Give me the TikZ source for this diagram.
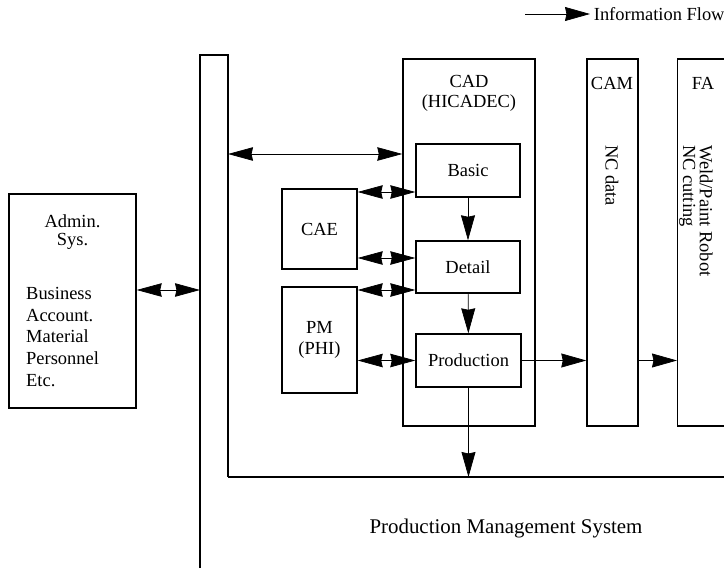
\documentclass[tikz,border=0pt]{standalone}
\usepackage{fontspec}
\setmainfont{Liberation Serif}
\usetikzlibrary{positioning, arrows.meta}

\tikzset{
    box/.style={draw, thick, inner sep=1pt},
    oneway/.style={-{Stealth[length=5mm, width=2.8mm, inset=0.3mm]}},
    twoway/.style={{Stealth[length=5mm, width=2.7mm, inset=0.3mm]}-{Stealth[length=5mm, width=2.7mm, inset=0.3mm]}}
}

\begin{document}
\begin{tikzpicture}[
    every node/.style={font=\fontsize{10.5}{12}\selectfont}
]
\useasboundingbox (0,0) rectangle (14.48,11.36);
\clip (0,0) rectangle (14.48,11.36);

% === LEGEND ===
\coordinate (legtail) at (10.5,11.08);
\node[anchor=west, inner sep=2pt] (legend) at (11.8,11.08) {Information Flow};
\draw[oneway] (legtail) -- (legend.west);

% === ADMIN SYSTEM ===
\node[box, minimum width=2.54cm, minimum height=4.28cm] (admin) at (1.45,5.34) {};
\node[align=center, font=\fontsize{10.5}{10.3}\selectfont] (admintitle) at (1.45,6.72) {Admin.\\Sys.};
\node[align=left, anchor=west, font=\fontsize{10.5}{12.5}\selectfont] (adminlist) at (0.4,4.62)
    {Business\\Account.\\Material\\Personnel\\Etc.};

% === PRODUCTION MANAGEMENT BUS ===
\draw[thick] (4.0,0) -- (4.0,10.26) -- (4.56,10.26) -- (4.56,1.82);
\draw[line width=1.1pt] (4.56,1.82) -- (14.6,1.82);
\coordinate (busadmin) at (4.0,5.56);
\coordinate (buscad) at (4.56,8.28);
\node[font=\fontsize{11.9}{14}\selectfont] (pmslabel) at (10.12,0.8) {Production Management System};

% === CAD ===
\node[box, minimum width=2.64cm, minimum height=7.34cm] (cad) at (9.38,6.51) {};
\node[align=center, font=\fontsize{10.5}{11.4}\selectfont] (cadtitle) at (9.38,9.5) {CAD\\(HICADEC)};
\node[box, minimum width=2.08cm, minimum height=1.06cm] (basic) at (9.36,7.95) {Basic};
\node[box, minimum width=2.08cm, minimum height=1.04cm] (detail) at (9.36,6.02) {Detail};
\node[box, minimum width=2.1cm, minimum height=1.06cm] (production) at (9.37,4.15) {Production};

% CAE and PM
\node[box, minimum width=1.5cm, minimum height=1.6cm] (cae) at (6.39,6.78) {CAE};
\node[box, align=center, minimum width=1.5cm, minimum height=2.12cm] (pm) at (6.39,4.56) {PM\\(PHI)};

% === CAM / FA ===
\node[box, minimum width=1.02cm, minimum height=7.34cm] (cam) at (12.25,6.51) {};
\node (camtitle) at (12.24,9.7) {CAM};
\node[rotate=-90, anchor=west] (ncdata) at (12.24,8.58) {NC data};
\node[box, anchor=west, minimum width=1.2cm, minimum height=7.34cm] (fa) at (13.54,6.51) {};
\node (fatitle) at (14.06,9.7) {FA};
\node[rotate=-90, anchor=west, align=left, font=\fontsize{10.5}{9.5}\selectfont] (fatasks) at (13.92,8.58)
    {Weld/Paint Robot\\NC cutting};

% === INFORMATION FLOW ===
\draw[twoway] (admin.east |- busadmin) -- (busadmin);
\draw[twoway] (buscad) -- (buscad -| cad.west);
\draw[twoway] (cae.east |- 0,7.52) -- (basic.west |- 0,7.52);
\draw[twoway] (cae.east |- 0,6.2) -- (detail.west |- 0,6.2);
\draw[twoway] (pm.east |- 0,5.56) -- (detail.west |- 0,5.56);
\draw[twoway] (pm.east |- production.west) -- (production.west);
\draw[oneway] (basic) -- (detail);
\draw[oneway] (detail) -- (production);
\draw[oneway] (production) -- (production |- 0,1.82);
\draw[oneway] (production.east) -- (production.east -| cam.west);
\draw[oneway] (cam.east |- production.east) -- (fa.west |- production.east);

\end{tikzpicture}
\end{document}
